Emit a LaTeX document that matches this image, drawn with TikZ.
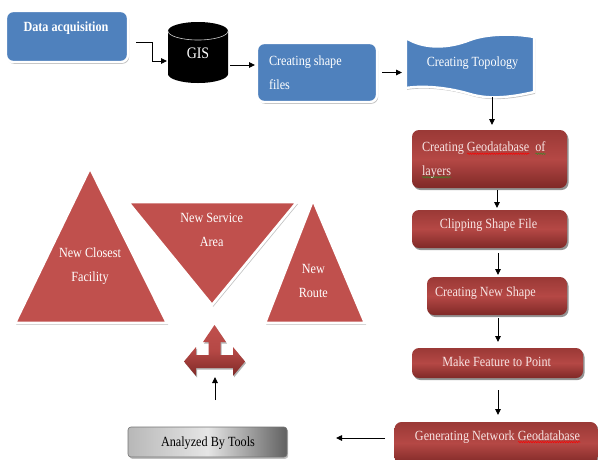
\documentclass[tikz,border=0pt]{standalone}
\usepackage{fontspec}
\setmainfont{Liberation Serif}[FakeStretch=0.87]
\usetikzlibrary{shadows,arrows.meta,decorations.pathmorphing}
\definecolor{cblue}{HTML}{4F81BD}
\definecolor{ctri}{HTML}{C0504D}
\definecolor{crtop}{HTML}{9A3936}
\definecolor{crmid}{HTML}{B54845}
\definecolor{crbot}{HTML}{7F2927}
\definecolor{ctxt}{HTML}{F7E4E3}
\definecolor{sqgreen}{HTML}{3A8A2A}
\newcommand\sqline[2]{\setbox0\hbox{#2}\leavevmode\rlap{\raisebox{-3pt}[0pt][0pt]{\tikz[x=1pt,y=1pt]\draw[#1, line width=0.5pt, decorate, decoration={snake, amplitude=0.7pt, segment length=2.4pt}] (0,0) -- (\wd0,0);}}\box0}
\begin{document}
\begin{tikzpicture}[x=1pt,y=-1pt,
  every node/.style={inner sep=0pt, outer sep=0pt},
  txt/.style={font=\fontsize{14}{23.5}\selectfont, text=white},
  rtxt/.style={txt, text=ctxt},
  shadowgray/.style={drop shadow={shadow xshift=1.2pt,shadow yshift=-1.8pt,fill=black!45,opacity=.55}},
  bluebox/.style={rectangle, rounded corners=7pt, fill=cblue, draw=white, line width=2.4pt, shadowgray},
  redbox/.style={rectangle, rounded corners=7pt, top color=crtop, bottom color=crbot, middle color=crmid,
     drop shadow={shadow xshift=1.5pt,shadow yshift=-2pt,fill=black!70,opacity=.6}},
  tri/.style={fill=ctri, draw=white, line width=2.6pt, line join=miter, shadowgray},
  arr/.style={draw=black, line width=0.9pt, -{Triangle[length=6pt,width=5.5pt]}},
]
\useasboundingbox (0,0) rectangle (598,459);

% top row
\node[bluebox, minimum width=122pt, minimum height=51pt] (da) at (67,36.5) {};
\node[txt, font=\bfseries\fontsize{14}{20}\selectfont, anchor=base] (dat) at (66,31.7) {Data acquisition};

\fill[black] (168,31) -- (168,74) .. controls (168,79) and (181.4,83) .. (198,83)
  .. controls (214.6,83) and (228,79) .. (228,74) -- (228,31)
  .. controls (228,26) and (214.6,22) .. (198,22) .. controls (181.4,22) and (168,26) .. (168,31) -- cycle;
\draw[white!80!black, line width=0.6pt] (168,31) .. controls (168,36) and (181.4,40) .. (198,40)
  .. controls (214.6,40) and (228,36) .. (228,31);
\node[minimum width=60pt, minimum height=61pt] (gis) at (198,52.5) {};
\node[txt, font=\fontsize{16}{20}\selectfont, anchor=base] (gist) at (198,58.3) {GIS};

\node[bluebox, minimum width=120pt, minimum height=59pt] (sf) at (317,72.5) {};
\node[txt, align=left, anchor=west] (sft) at (269,72.75) {Creating shape\\files};

\filldraw[fill=cblue, draw=white, line width=2.4pt, shadowgray]
  (406,38) .. controls (425,50) and (450,48) .. (470,40) .. controls (486,34) and (512,33) .. (534,37)
  -- (534,92) .. controls (512,97) and (490,100) .. (470,94) .. controls (450,88) and (425,85) .. (406,88) -- cycle;
\node[minimum width=128pt, minimum height=56pt] (topo) at (470,65) {};
\node[txt, anchor=base] (topot) at (472.5,66) {Creating Topology};

% right column
\node[redbox, minimum width=155pt, minimum height=58pt] (geo) at (489.5,159) {};
\node[rtxt, align=left, anchor=west] (geot) at (422,160) {Creating \sqline{red}{Geodatabase}\ \ \sqline{sqgreen}{of}\\\sqline{sqgreen}{layers}};
\node[redbox, minimum width=155pt, minimum height=38pt] (clip) at (489.5,229) {};
\node[rtxt, anchor=base] (clipt) at (488.5,228.3) {Clipping Shape File};
\node[redbox, minimum width=140pt, minimum height=38pt] (cns) at (497,296) {};
\node[rtxt, anchor=base west] (cnst) at (435,296.7) {Creating New Shape};
\node[redbox, minimum width=171pt, minimum height=30pt] (mf) at (497.5,363) {};
\node[rtxt, anchor=base] (mft) at (496.7,366.7) {Make Feature to Point};
\node[redbox, minimum width=203pt, minimum height=42pt] (gen) at (496,443) {};
\node[rtxt, anchor=base] (gent) at (497.5,440) {Generating Network \sqline{red}{Geodatabase}};

% analyzed
\node[rectangle, rounded corners=3pt, draw=black!55, line width=0.6pt, left color=black!28, right color=black!62,
  middle color=black!10, minimum width=159pt, minimum height=30pt, shadowgray] (an) at (207.5,442) {};
\node[txt, text=black, anchor=base] (ant) at (208,446) {Analyzed By Tools};

% triangles
\filldraw[tri] (90,168) -- (167,323) -- (15,323) -- cycle;
\filldraw[tri] (128,202) -- (297,202) -- (212,305) -- cycle;
\filldraw[tri] (313,200) -- (365,323) -- (265,323) -- cycle;
\node[txt, align=center] (t1t) at (90,266.2) {New Closest\\Facility};
\node[txt, align=center] (t2t) at (211.7,229.9) {New Service\\Area};
\node[txt, align=center] (t3t) at (313.3,280.9) {New\\Route};

% four-way arrow
\shade[top color=ctri, bottom color=crbot, middle color=crmid,
  drop shadow={shadow xshift=1pt,shadow yshift=-1.5pt,fill=black!60,opacity=.5}]
  (214.5,325) -- (226,342) -- (220.5,342) -- (220.5,355) -- (233,355) -- (233,347) -- (245,361.5)
  -- (233,376) -- (233,368) -- (196,368) -- (196,376) -- (184,361.5) -- (196,347) -- (196,355)
  -- (208.5,355) -- (208.5,342) -- (203,342) -- cycle;
\node[minimum width=61pt, minimum height=51pt] (fwa) at (214.5,350.5) {};

% connectors
\draw[arr] ([shift={(8,5.5)}]da.east) -- ++(16,0) |- ([shift={(-1,8.5)}]gis.west);
\draw[arr, shorten >=2pt] ([shift={(2,12.5)}]gis.east) coordinate (g1) -- (sf.west |- g1);
\draw[arr, shorten <=5pt, shorten >=4pt] (sf.east) -- (topo.west |- sf.east);
\draw[arr, shorten >=5pt] ([shift={(22,4)}]topo.south) coordinate (c0) -- (c0 |- geo.north);
\draw[arr, shorten <=2pt, shorten >=2pt] ([xshift=7.5pt]geo.south) coordinate (c1) -- (c1 |- clip.north);
\draw[arr, shorten <=5pt, shorten >=2pt] ([xshift=8.5pt]clip.south) coordinate (c2) -- (c2 |- cns.north);
\draw[arr, shorten <=3pt, shorten >=6pt] ([xshift=1pt]cns.south) coordinate (c3) -- (c3 |- mf.north);
\draw[arr, shorten <=12pt, shorten >=7pt] ([xshift=0.5pt]mf.south) coordinate (c4) -- (c4 |- gen.north);
\draw[arr, shorten >=49pt] ([shift={(-9.5,-5)}]gen.west) coordinate (c5) -- (an.east |- c5);
\draw[arr, shorten >=1pt] ([shift={(7.5,-27)}]an.north) coordinate (c6) -- (c6 |- fwa.south);
\end{tikzpicture}
\end{document}
